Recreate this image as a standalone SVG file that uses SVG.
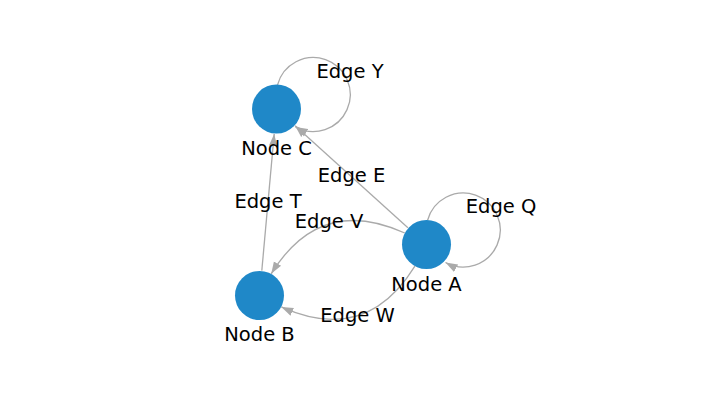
<svg xmlns="http://www.w3.org/2000/svg" width="709" height="400" viewBox="0 0 709 400">
<style>
.edge{fill:none;stroke:#aaaaaa;stroke-width:1.3;marker-end:url(#arr)}
.node{fill:#1f88c8}
text{font-family:"DejaVu Sans","Liberation Sans",sans-serif;font-size:19.5px;fill:#000;text-anchor:middle}
</style>
<defs>
<marker id="arr" markerUnits="userSpaceOnUse" markerWidth="14" markerHeight="10" viewBox="0 -5 14 10" refX="12" refY="0" orient="auto">
<path d="M0,-4.2 L12,0 L0,4.2 z" fill="#aaaaaa"/>
</marker>
</defs>
<rect width="709" height="400" fill="#ffffff"/>
<g id="edges">
<path class="edge" d="M407.9,227.7 L295.1,125.8"/>
<path class="edge" d="M261.8,270.6 L274.2,133.9"/>
<path class="edge" d="M404.8,233.0 Q320.0,194.6 271.2,273.8"/>
<path class="edge" d="M414.9,266.1 Q366.0,345.3 281.3,306.9"/>
<path class="edge" d="M277.5,85 A37 37 0 1 1 295.5,127"/>
<path class="edge" d="M427.5,220.5 A37 37 0 1 1 445.5,262.5"/>
</g>
<g id="edge-labels">
<text x="350" y="78">Edge Y</text>
<text x="501" y="213">Edge Q</text>
<text x="351.5" y="181.7">Edge E</text>
<text x="268" y="207.5">Edge T</text>
<text x="329" y="228">Edge V</text>
<text x="357.5" y="322.3">Edge W</text>
</g>
<g id="node-C">
<circle class="node" cx="276.5" cy="109" r="24.5"/>
<text x="276.5" y="155">Node C</text>
</g>
<g id="node-A">
<circle class="node" cx="426.5" cy="244.5" r="24.5"/>
<text x="426.5" y="290.5">Node A</text>
</g>
<g id="node-B">
<circle class="node" cx="259.5" cy="295.5" r="24.5"/>
<text x="259.5" y="340.5">Node B</text>
</g>
</svg>
